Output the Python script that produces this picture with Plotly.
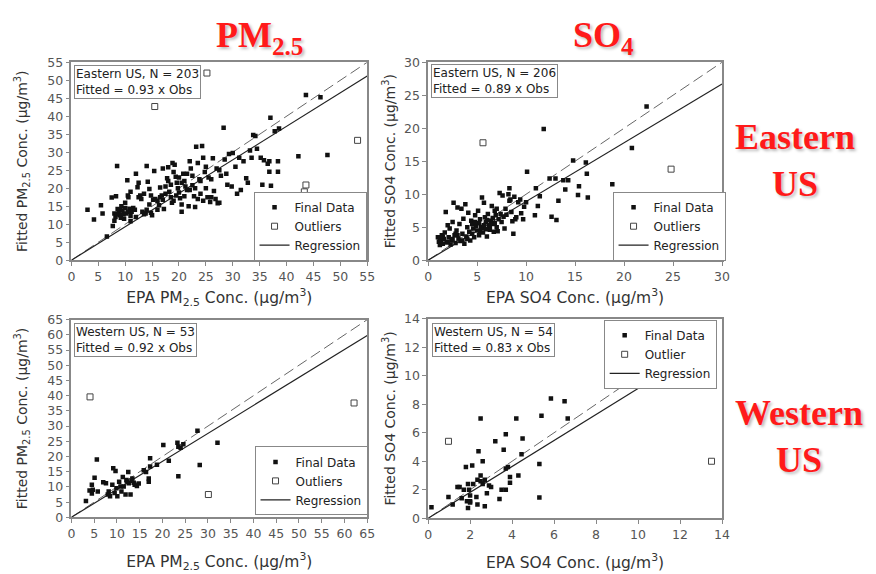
import plotly.graph_objects as go

# ---------------- DATA ----------------
# Panel 1: Eastern US, PM2.5
e_pm_x = [3.0, 4.2, 5.5, 5.8, 6.6, 7.5, 7.7, 8.0, 8.2, 8.3, 8.5, 8.6, 8.8, 9.0, 9.2, 9.3, 9.5, 9.7, 10.0, 10.2,
          10.4, 10.5, 10.6, 10.8, 11.0, 11.2, 11.5, 11.0, 12.0, 12.3, 12.5, 12.8, 13.0, 13.2, 13.5, 14.0, 14.2,
          14.5, 14.0, 14.8, 15.0, 15.2, 15.4, 15.6, 8.0, 8.4, 9.0, 9.8, 10.5, 11.8, 12.0, 13.8, 14.5, 12.5, 11.0,
          10.0, 13.5, 14.8,
          16.0, 16.3, 16.5, 16.8, 17.0, 17.2, 17.5, 17.8, 18.0, 18.2, 18.5, 18.7, 19.0, 19.2, 19.4, 19.6, 19.8,
          20.0, 20.2, 20.5, 20.8, 21.0, 21.2, 21.5, 21.8, 22.0, 22.2, 22.5, 22.8, 23.0, 23.2, 23.5, 23.8, 24.0,
          24.3, 24.5, 24.8, 25.0, 25.3, 25.8, 26.0, 26.3, 26.5, 26.8, 27.2, 27.5, 27.8,
          16.0, 16.5, 17.5, 18.0, 18.5, 19.5, 20.0, 20.5, 21.0, 21.5, 22.0, 22.5, 23.0, 23.5, 24.0, 24.5, 25.0,
          25.5, 26.0, 27.0, 27.5, 20.5, 19.0, 17.0, 18.8,
          28.3, 28.5, 28.8, 29.0, 29.3, 29.8, 30.0, 30.5, 30.8, 31.2, 31.5, 32.0, 32.5, 32.8, 33.2, 33.5, 33.8,
          34.2, 34.5, 35.2, 35.5, 35.8, 36.5, 36.8, 37.0, 36.8, 37.8, 38.6, 38.4, 38.4, 37.1, 42.2, 47.6, 43.6, 46.3]
e_pm_y = [14.0, 11.3, 15.3, 13.0, 6.6, 17.4, 9.5, 13.0, 12.0, 17.8, 26.2, 14.2, 13.5, 12.5, 11.8, 15.0, 13.8, 12.8, 14.5, 13.0,
          22.2, 18.0, 17.5, 14.3, 12.3, 13.5, 14.5, 10.8, 24.0, 20.3, 21.5, 18.0, 17.0, 13.5, 12.8, 26.2, 21.8,
          19.8, 14.0, 13.2, 12.5, 16.8, 24.8, 17.0, 11.0, 12.8, 14.0, 11.5, 13.5, 14.0, 12.0, 13.0, 15.5, 17.5, 19.0,
          16.0, 18.5, 18.0,
          16.5, 15.3, 20.2, 18.0, 16.8, 14.2, 20.5, 22.8, 25.8, 19.0, 17.5, 16.0, 24.5, 26.5, 23.2, 21.5, 20.0,
          18.8, 17.2, 13.5, 24.0, 22.0, 20.5, 19.5, 15.0, 27.5, 25.5, 20.8, 17.8, 14.8, 31.5, 27.0, 22.5, 18.5,
          31.7, 16.5, 24.5, 20.0, 17.5, 16.2, 22.5, 28.3, 19.2, 17.0, 15.8, 25.0, 23.5,
          14.0, 17.5, 18.5, 22.0, 21.0, 18.0, 23.0, 21.5, 17.8, 24.0, 19.5, 23.5, 20.0, 17.0, 22.0, 28.5, 26.0,
          23.0, 17.5, 25.5, 16.0, 15.5, 16.5, 25.5, 27.0,
          36.8, 28.0, 24.0, 21.0, 29.5, 20.5, 29.8, 26.0, 18.5, 28.5, 19.5, 27.5, 22.8, 21.5, 30.5, 28.5, 34.8,
          34.5, 31.0, 28.5, 21.0, 27.8, 26.8, 27.5, 39.6, 24.6, 35.8, 36.6, 27.5, 24.6, 20.7, 28.9, 29.2, 45.9, 45.3]
e_pm_out_x = [25.2, 15.5, 53.2, 43.6, 43.3]
e_pm_out_y = [52.0, 42.7, 33.3, 20.9, 19.0]

# Panel 2: Eastern US, SO4
e_so4_x = [22.3, 11.8, 14.8, 20.8, 16.1, 16.2, 18.8, 20.0, 16.3, 15.3, 15.4, 14.0, 14.3, 13.8, 13.0, 12.4, 13.3,
           13.1, 12.6, 10.9, 11.0, 11.4, 11.2, 10.1, 9.8, 9.7, 9.4, 8.4, 8.3, 8.9, 8.7,
           1.0, 1.1, 1.2, 1.3, 1.4, 1.5, 1.6, 1.7, 1.8, 1.9, 2.0, 2.1, 2.2, 2.3, 2.4, 2.5, 2.6, 2.7, 2.8, 2.9,
           3.0, 3.1, 3.2, 3.3, 3.4, 3.5, 3.6, 3.7, 3.8, 3.9, 4.0, 4.1, 4.2, 4.3, 4.4, 4.5, 4.6, 4.7, 4.8, 4.9,
           5.0, 5.1, 5.2, 5.3, 5.4, 5.5, 5.6, 5.7, 5.8, 5.9, 6.0, 6.1, 6.2, 6.3, 6.4, 6.5, 6.6, 6.7, 6.8, 6.9,
           7.0, 7.1, 7.2, 7.3, 7.4, 7.5, 7.6, 7.7, 7.8, 7.9, 8.0, 8.2, 8.3, 8.5, 8.6, 8.8, 9.0, 9.2, 9.5, 10.0,
           5.2, 5.5, 5.7, 6.0, 5.3, 4.8, 6.3, 6.6, 5.9, 4.5, 3.0, 2.5, 2.0, 1.5, 1.2, 3.5, 4.0, 2.8, 6.8, 7.0]
e_so4_y = [23.3, 19.9, 15.1, 17.0, 14.8, 13.1, 11.5, 10.0, 9.5, 9.9, 11.2, 10.7, 12.1, 12.1, 12.4, 12.4, 9.0,
           6.1, 6.6, 6.8, 10.9, 9.7, 8.2, 13.4, 8.1, 6.2, 9.2, 9.2, 10.9, 6.2, 4.0,
           3.5, 2.8, 2.3, 3.0, 3.8, 2.5, 3.2, 4.2, 7.3, 2.7, 5.3, 3.5, 4.8, 2.4, 3.0, 5.8, 8.7, 3.8, 2.6, 4.5,
           8.0, 3.3, 5.5, 2.9, 7.8, 4.0, 6.3, 2.5, 8.5, 3.6, 5.0, 7.2, 4.3, 3.0, 6.0, 5.5, 4.8, 3.5, 6.8, 5.2,
           4.5, 7.5, 3.8, 6.2, 5.0, 9.5, 4.2, 8.7, 6.5, 5.8, 3.6, 7.0, 5.3, 4.6, 6.0, 8.2, 5.5, 4.3, 7.5, 6.8,
           5.0, 4.4, 6.2, 10.2, 7.0, 5.8, 9.8, 6.6, 4.8, 7.8, 6.9, 10.0, 9.0, 7.3, 5.9, 9.6, 6.5, 8.8, 7.1, 8.8,
           5.6, 4.9, 5.3, 6.1, 4.4, 5.8, 5.0, 6.4, 4.7, 4.0, 3.8, 3.2, 2.8, 3.6, 3.4, 3.0, 3.2, 4.0, 5.6, 7.8]
e_so4_out_x = [5.6, 24.8]
e_so4_out_y = [17.8, 13.8]

# Panel 3: Western US, PM2.5
w_pm_x = [3.2, 4.5, 4.5, 5.1, 5.6, 4.7, 5.8, 7.6, 8.2, 8.5, 9.0, 9.2, 9.7, 9.9, 10.1, 10.5, 10.8, 11.3, 11.5,
          11.9, 12.1, 12.5, 12.6, 13.0, 13.4, 13.7, 13.9, 14.4, 14.8, 15.9, 16.4, 17.0, 17.0, 17.3, 17.3, 18.8,
          20.2, 21.4, 23.3, 23.5, 24.0, 24.6, 23.5, 28.2, 27.7, 32.1, 4.0, 7.0, 8.0, 11.0, 12.2, 13.2, 9.5]
w_pm_y = [5.4, 7.8, 10.7, 13.0, 19.0, 9.1, 8.5, 11.2, 8.5, 6.9, 10.7, 16.1, 15.2, 9.6, 6.9, 11.7, 10.1, 13.3, 10.1,
          7.5, 12.3, 14.9, 11.2, 7.5, 12.8, 11.4, 10.7, 10.3, 11.1, 15.5, 14.9, 12.8, 11.7, 19.4, 16.7, 17.3,
          23.8, 18.6, 24.5, 23.2, 22.9, 24.0, 13.5, 17.2, 28.5, 24.5, 8.8, 11.5, 7.5, 8.5, 11.8, 12.0, 8.0]
w_pm_out_x = [4.1, 30.1, 62.1]
w_pm_out_y = [39.6, 7.5, 37.6]

# Panel 4: Western US, SO4
w_so4_x = [0.16, 0.97, 1.17, 1.4, 1.5, 1.6, 1.8, 1.85, 1.9, 1.9, 1.95, 2.0, 2.0, 2.1, 2.15, 2.3, 2.35, 2.4,
           2.35, 2.5, 2.5, 2.6, 2.6, 2.7, 2.7, 2.8, 2.9, 3.2, 3.4, 3.5, 3.6, 3.7, 3.7, 3.7, 3.8, 3.9, 3.9, 4.2,
           4.3, 4.45, 4.5, 5.3, 5.3, 5.4, 5.85, 6.5, 6.65, 2.0, 1.7, 2.5, 3.0]
w_so4_y = [0.78, 1.5, 0.96, 2.2, 2.2, 1.4, 3.6, 1.2, 2.4, 0.73, 2.0, 1.6, 1.2, 3.7, 2.4, 1.5, 2.7, 4.7,
           0.96, 7.0, 3.0, 2.4, 4.0, 0.84, 2.7, 1.75, 2.3, 5.4, 1.35, 2.0, 4.8, 2.0, 3.5, 5.9, 3.6, 2.9, 2.5, 7.0,
           3.0, 4.5, 5.6, 3.8, 1.46, 7.2, 8.4, 8.2, 7.0, 1.1, 2.0, 2.6, 2.2]
w_so4_out_x = [0.97, 13.5]
w_so4_out_y = [5.4, 4.0]

# 1:1 reference lines and regression lines (end points, data units)
e_pm_ref = [0, 55];   e_pm_reg_y = [0, 51.15]
e_so4_ref = [0, 30];  e_so4_reg_y = [0, 26.7]
w_pm_ref = [0, 65];   w_pm_reg_y = [0, 59.8]
w_so4_ref = [0, 10];  w_so4_reg_y = [0, 9.1]

# panel info: text box labels
box_text = ["Eastern US, N = 203<br>Fitted = 0.93 x Obs",
            "Eastern US, N = 206<br>Fitted = 0.89 x Obs",
            "Western US, N = 53<br>Fitted = 0.92 x Obs",
            "Western US, N = 54<br>Fitted = 0.83 x Obs"]
outlier_names = ["Outliers", "Outliers", "Outliers", "Outlier"]

# ---------------- FIGURE ----------------
W, H = 876, 574
FONT = "DejaVu Sans, Liberation Sans, Arial"
fig = go.Figure()

panels = [
    (e_pm_x, e_pm_y, e_pm_out_x, e_pm_out_y, e_pm_ref, e_pm_reg_y),
    (e_so4_x, e_so4_y, e_so4_out_x, e_so4_out_y, e_so4_ref, e_so4_reg_y),
    (w_pm_x, w_pm_y, w_pm_out_x, w_pm_out_y, w_pm_ref, w_pm_reg_y),
    (w_so4_x, w_so4_y, w_so4_out_x, w_so4_out_y, w_so4_ref, w_so4_reg_y),
]

for i, (fx, fy, ox, oy, ref, regy) in enumerate(panels):
    n = "" if i == 0 else str(i + 1)
    xa, ya = "x" + n, "y" + n
    lg = "legend" + n
    fig.add_trace(go.Scatter(x=ref, y=ref, mode="lines", xaxis=xa, yaxis=ya,
                             line=dict(color="#666", width=1, dash="11px,5px"),
                             showlegend=False, hoverinfo="skip"))
    fig.add_trace(go.Scatter(x=ref, y=regy, mode="lines", xaxis=xa, yaxis=ya,
                             line=dict(color="#222", width=1.2), name="Regression",
                             legend=lg, legendrank=3))
    fig.add_trace(go.Scatter(x=fx, y=fy, mode="markers", xaxis=xa, yaxis=ya,
                             marker=dict(symbol="square", size=4.5, color="#111"),
                             name="Final Data", legend=lg, legendrank=1))
    fig.add_trace(go.Scatter(x=ox, y=oy, mode="markers", xaxis=xa, yaxis=ya,
                             marker=dict(symbol="square-open", size=6, color="#444",
                                         line=dict(width=1)),
                             name=outlier_names[i], legend=lg, legendrank=2))

def px_x(p):
    return p / W

def px_y(p):
    return 1 - p / H

def xaxis_style(standoff):
    return dict(showline=True, linecolor="#888", linewidth=1.5, mirror=True,
                ticks="outside", ticklen=4, tickcolor="#888", showgrid=False, zeroline=False,
                tickfont=dict(family=FONT, size=12.5, color="#555"),
                title=dict(standoff=standoff, font=dict(family=FONT, size=15.5, color="#333")))

def yaxis_style(standoff):
    return dict(showline=True, linecolor="#888", linewidth=1.5, mirror=True,
                ticks="outside", ticklen=4, tickcolor="#888", showgrid=False, zeroline=False,
                tickfont=dict(family=FONT, size=12.5, color="#555"),
                title=dict(standoff=standoff, font=dict(family=FONT, size=14, color="#333")))

dom_x_left = [px_x(68.3), px_x(368.3)]
dom_x_right = [px_x(430), px_x(728)]
dom_y_top = [px_y(259), px_y(55.7)]
dom_y_bot = [px_y(523), px_y(320)]

pm_xt = "EPA PM<sub>2.5</sub> Conc. (µg/m<sup>3</sup>)"
pm_yt = "Fitted PM<sub>2.5</sub> Conc. (µg/m<sup>3</sup>)"
so_xt = "EPA SO4 Conc. (µg/m<sup>3</sup>)"
so_yt = "Fitted SO4 Conc. (µg/m<sup>3</sup>)"

fig.update_layout(
    xaxis=dict(domain=dom_x_left, anchor="y", range=[0, 55], dtick=5, **xaxis_style(9)),
    yaxis=dict(domain=dom_y_top, anchor="x", range=[0, 55], dtick=5, **yaxis_style(16)),
    xaxis2=dict(domain=dom_x_right, anchor="y2", range=[0, 30], dtick=5, **xaxis_style(9)),
    yaxis2=dict(domain=dom_y_top, anchor="x2", range=[0, 30], dtick=5, **yaxis_style(5)),
    xaxis3=dict(domain=dom_x_left, anchor="y3", range=[0, 65], dtick=5, **xaxis_style(16)),
    yaxis3=dict(domain=dom_y_bot, anchor="x3", range=[0, 65], dtick=5, **yaxis_style(16)),
    xaxis4=dict(domain=dom_x_right, anchor="y4", range=[0, 14], dtick=2, **xaxis_style(16)),
    yaxis4=dict(domain=[px_y(524), px_y(319)], anchor="x4", range=[0, 14], dtick=2, **yaxis_style(5)),
)
fig.layout.xaxis.title.text = pm_xt
fig.layout.yaxis.title.text = pm_yt
fig.layout.xaxis2.title.text = so_xt
fig.layout.yaxis2.title.text = so_yt
fig.layout.xaxis3.title.text = pm_xt
fig.layout.yaxis3.title.text = pm_yt
fig.layout.xaxis4.title.text = so_xt
fig.layout.yaxis4.title.text = so_yt

legend_common = dict(bgcolor="white", bordercolor="#888", borderwidth=1,
                     font=dict(family=FONT, size=12, color="#222"),
                     xanchor="left", yanchor="bottom", tracegroupgap=0, itemwidth=30)
fig.update_layout(
    legend=dict(x=px_x(253), y=px_y(259.5), **legend_common),
    legend2=dict(x=px_x(617), y=px_y(259.5), **legend_common),
    legend3=dict(x=px_x(254), y=px_y(521), **legend_common),
    legend4=dict(x=px_x(608), y=px_y(391), **legend_common),
)

# text boxes inside panels
box_pos = [(71, 59), (433, 58), (71, 323), (434, 323)]
for (bx, by), txt in zip(box_pos, box_text):
    fig.add_annotation(x=px_x(bx), y=px_y(by), xref="paper", yref="paper",
                       xanchor="left", yanchor="top", text=txt, showarrow=False, align="left",
                       font=dict(family=FONT, size=12, color="#222"),
                       bgcolor="white", bordercolor="#888", borderwidth=1, borderpad=1)

# big red headings
red_font = dict(family="Liberation Serif, Times New Roman", size=36, color="#ff1a1a",
                weight="bold", shadow="2px 2px 3px #bbb")
headings = [("<b>PM<sub>2.5</sub></b>", 259, 30), ("<b>SO<sub>4</sub></b>", 608, 30),
            ("<b>Eastern<br>US</b>", 802, 157), ("<b>Western<br>US</b>", 806, 440)]
for txt, hx, hy in headings:
    fig.add_annotation(x=px_x(hx), y=px_y(hy), xref="paper", yref="paper",
                       xanchor="center", yanchor="middle", text=txt, showarrow=False,
                       font=red_font, align="center")

fig.update_layout(width=W, height=H, margin=dict(l=0, r=0, t=0, b=0),
                  paper_bgcolor="white", plot_bgcolor="white", showlegend=True)

fig.write_html("out.html")
